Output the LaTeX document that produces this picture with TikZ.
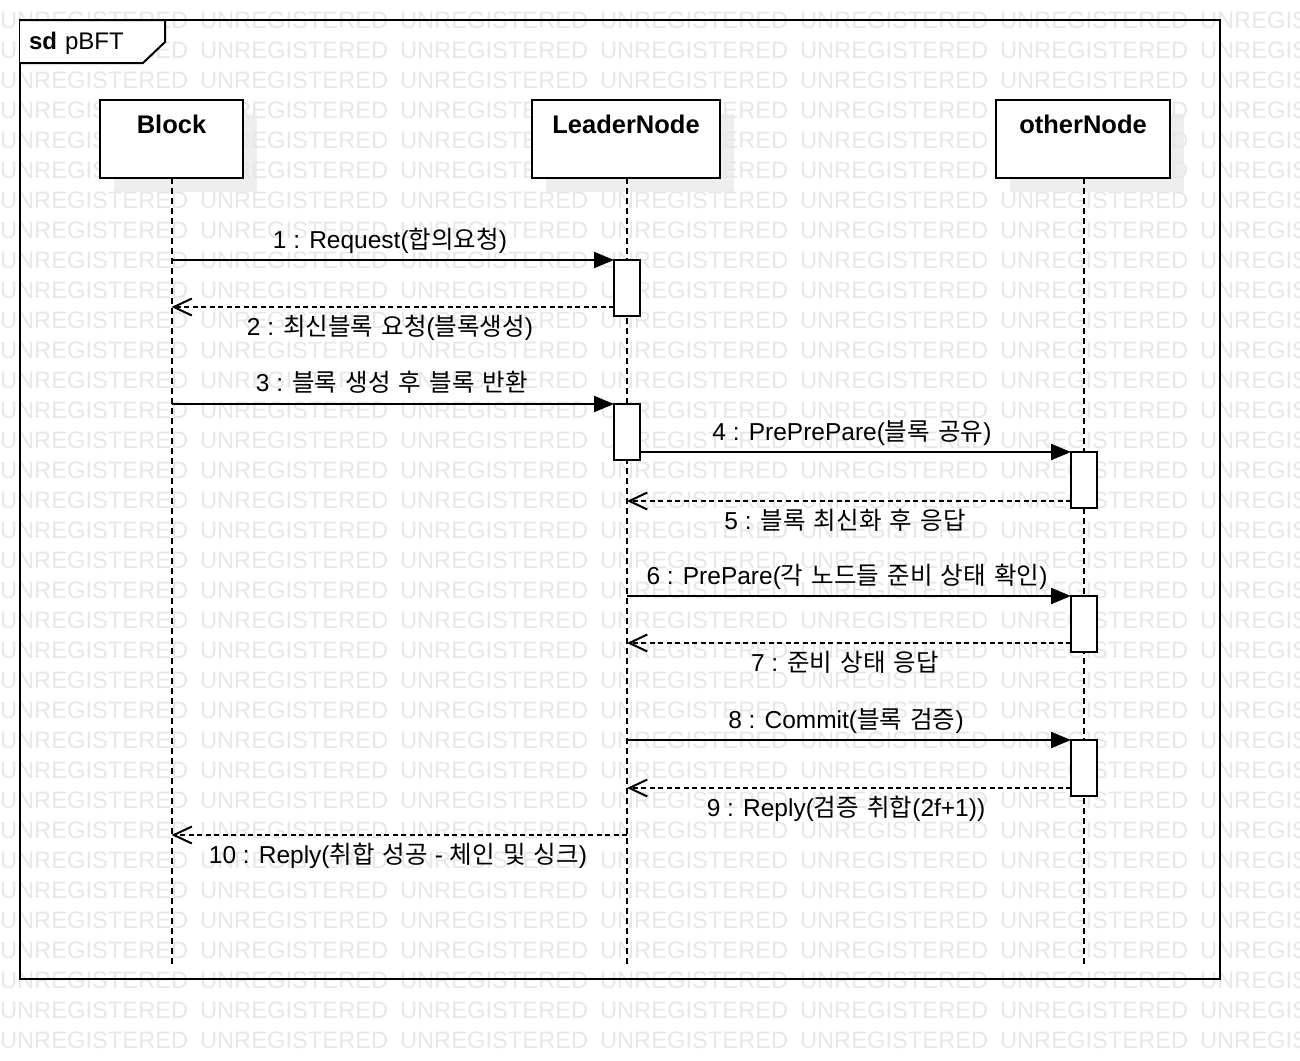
\documentclass[tikz,border=0pt]{standalone}
\usepackage{fontspec}
\setmainfont{Liberation Sans}
\newfontfamily\krfont{Noto Sans CJK KR}[WordSpace=1.5]
\newcommand{\K}[1]{{\krfont #1}}
\usetikzlibrary{arrows.meta}
\definecolor{wmgray}{RGB}{231,231,231}
\definecolor{shadegray}{RGB}{238,238,238}

\begin{document}
\begin{tikzpicture}[x=1pt,y=-1pt,
  every node/.style={inner sep=0pt,outer sep=0pt},
  wm/.style={text=wmgray,font=\fontsize{23.7}{26}\selectfont,anchor=base west},
  headbox/.style={draw=black,line width=2pt,fill=white,minimum height=78pt},
  headname/.style={font=\bfseries\fontsize{25.5}{28}\selectfont,anchor=base},
  lifeline/.style={line width=2pt,dash pattern=on 6pt off 4pt},
  actbox/.style={draw=black,line width=2pt,fill=white,minimum width=26pt,minimum height=56pt},
  call/.style={line width=2pt,-{Triangle[length=20pt,width=16pt]}},
  reply/.style={line width=2pt,dash pattern=on 5pt off 3.5pt,-{Straight Barb[length=18pt,width=17pt]}},
  msg/.style={font=\fontsize{24.5}{28}\selectfont,anchor=base}
]
\useasboundingbox (0,0) rectangle (1300,1060);
\clip (0,0) rectangle (1300,1060);
\fill[white] (0,0) rectangle (1300,1060);

% lifeline heads (placed first so the shadows can be drawn beneath the watermark)
\path
  node[headbox,minimum width=143pt] (block)  at (171.5,139) {}
  node[headbox,minimum width=188pt] (leader) at (626,139) {}
  node[headbox,minimum width=174pt] (other)  at (1083,139) {};
\foreach \n in {block,leader,other}
  \fill[shadegray] ([shift={(14,14)}]\n.north west) rectangle ([shift={(14,14)}]\n.south east);

% watermark grid
\foreach \r in {0,...,34}
  \foreach \c in {0,...,6}
    \node[wm] at (\c*200, 28.5+\r*30) {UNREGISTERED};

% frame with its name tab
\draw[line width=2pt] (20,20) rectangle (1220,979);
\draw[line width=2pt,fill=white] (20,20) -- (165,20) -- (165,42) -- (143,63) -- (20,63);
\node[anchor=base west,font=\fontsize{24}{28}\selectfont] (title) at (29,49) {\textbf{sd}\hspace{8pt}pBFT};

% lifelines
\coordinate (blockend)  at (171.5,965);
\coordinate (leaderend) at (627,965);
\coordinate (otherend)  at (1084,965);
\draw[lifeline] (block.south) -- (blockend);
\draw[lifeline] (leader.south -| leaderend) -- (leaderend);
\draw[lifeline] (other.south -| otherend) -- (otherend);

% heads drawn again on top
\path
  node[headbox,minimum width=143pt] (block2)  at (171.5,139) {}
  node[headbox,minimum width=188pt] (leader2) at (626,139) {}
  node[headbox,minimum width=174pt] (other2)  at (1083,139) {};
\node[headname] (blockname)  at (171.5,133) {Block};
\node[headname] (leadername) at (626,133) {LeaderNode};
\node[headname] (othername)  at (1083,133) {otherNode};

% activations
\node[actbox] (a1) at (627,288) {};
\node[actbox] (a2) at (627,432) {};
\node[actbox] (a3) at (1084,480) {};
\node[actbox] (a4) at (1084,624) {};
\node[actbox] (a5) at (1084,768) {};

% message end points
\coordinate (b260) at (171.5,260);
\coordinate (b307) at (171.5,307);
\coordinate (b404) at (171.5,404);
\coordinate (b835) at (171.5,835);
\coordinate (l501) at (627,501);
\coordinate (l596) at (627,596);
\coordinate (l643) at (627,643);
\coordinate (l740) at (627,740);
\coordinate (l788) at (627,788);
\coordinate (l835) at (627,835);

% messages
\draw[call]  (b260) -- (a1.north west);
\draw[reply] (a1.west |- b307) -- (b307);
\draw[call]  (b404) -- (a2.north west);
\draw[call]  (a2.east |- a3.north) -- (a3.north west);
\draw[reply] (a3.west |- l501) -- (l501);
\draw[call]  (l596) -- (a4.north west);
\draw[reply] (a4.west |- l643) -- (l643);
\draw[call]  (l740) -- (a5.north west);
\draw[reply] (a5.west |- l788) -- (l788);
\draw[reply] (l835) -- (b835);

% message labels
\node[msg] (t1)  at (390,248) {1 : Request(\K{합의요청})};
\node[msg] (t2)  at (390,335) {2 : \K{최신블록 요청}(\K{블록생성})};
\node[msg] (t3)  at (392,391) {3 : \K{블록 생성 후 블록 반환}};
\node[msg] (t4)  at (852,440) {4 : PrePrePare(\K{블록 공유})};
\node[msg] (t5)  at (845,529) {5 : \K{블록 최신화 후 응답}};
\node[msg] (t6)  at (847,584) {6 : PrePare(\K{각 노드들 준비 상태 확인})};
\node[msg] (t7)  at (845,671) {7 : \K{준비 상태 응답}};
\node[msg] (t8)  at (846,728) {8 : Commit(\K{블록 검증})};
\node[msg] (t9)  at (846,816) {9 : Reply(\K{검증 취합}(2f+1))};
\node[msg] (t10) at (398,863) {10 : Reply(\K{취합 성공} - \K{체인 및 싱크})};
\end{tikzpicture}
\end{document}
